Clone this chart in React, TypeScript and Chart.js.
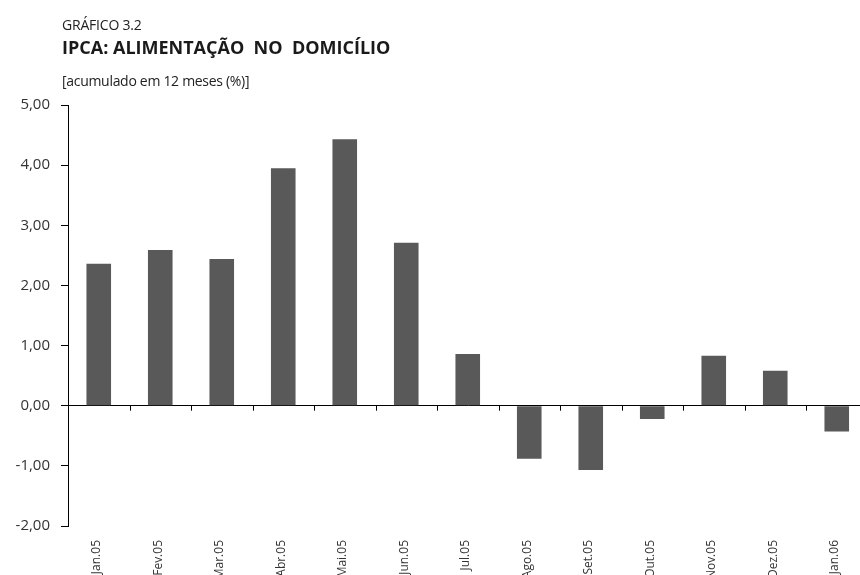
import React, { useEffect, useRef } from "react";
import { Chart, registerables } from "chart.js";

Chart.register(...registerables);

const categories = [
  "Jan.05", "Fev.05", "Mar.05", "Abr.05", "Mai.05", "Jun.05", "Jul.05",
  "Ago.05", "Set.05", "Out.05", "Nov.05", "Dez.05", "Jan.06",
];
const values = [2.36, 2.59, 2.44, 3.95, 4.43, 2.71, 0.86, -0.88, -1.07, -0.22, 0.83, 0.58, -0.43];
const yMin = -2;
const yMax = 5;
const yStep = 1;

const titleSmall = "GRÁFICO 3.2";
const titleMain = "IPCA: ALIMENTAÇÃO  NO  DOMICÍLIO";
const subtitle = "[acumulado em 12 meses (%)]";

const CANVAS_W = 880;
const CANVAS_H = 590;

const xTickMarks = {
  id: "xTickMarks",
  afterDraw(chart: any) {
    const x = chart.scales.x;
    const y = chart.scales.y;
    const ctx = chart.ctx;
    const y0 = y.getPixelForValue(0);
    ctx.save();
    ctx.strokeStyle = "#000";
    ctx.lineWidth = 1;
    ctx.beginPath();
    for (let i = 1; i <= categories.length; i++) {
      const px = Math.round(x.getPixelForValue(i - 0.5)) + 0.5;
      ctx.moveTo(px, y0);
      ctx.lineTo(px, y0 + 5);
    }
    ctx.stroke();
    ctx.restore();
  },
};

export default function App() {
  const ref = useRef<HTMLCanvasElement | null>(null);

  useEffect(() => {
    if (!ref.current) return;
    const chart = new Chart(ref.current, {
      type: "bar",
      data: {
        labels: categories,
        datasets: [
          {
            data: values,
            backgroundColor: "#595959",
            borderWidth: 0,
            barPercentage: 0.8,
            categoryPercentage: 0.5,
          },
        ],
      },
      options: {
        responsive: false,
        animation: false,
        devicePixelRatio: 1,
        layout: { padding: { top: 105, right: 12.5, left: 0, bottom: 0 } },
        plugins: {
          legend: { display: false },
          tooltip: { enabled: false },
          title: { display: false },
        },
        scales: {
          x: {
            offset: true,
            grid: { display: false, drawTicks: false },
            border: { display: false },
            ticks: {
              minRotation: 90,
              maxRotation: 90,
              autoSkip: false,
              padding: 14,
              labelOffset: -2,
              color: "#333",
              font: { family: "'Open Sans', sans-serif", size: 12 },
            },
            afterFit(scale: any) {
              scale.height = CANVAS_H - 526;
            },
          },
          y: {
            min: yMin,
            max: yMax,
            ticks: {
              stepSize: yStep,
              padding: 11,
              color: "#333",
              font: { family: "'Open Sans', sans-serif", size: 15 },
              callback: (v: any) => Number(v).toFixed(2).replace(".", ","),
            },
            grid: {
              drawOnChartArea: true,
              drawTicks: true,
              tickLength: 7,
              tickColor: "#000",
              color: (c: any) => (c.tick && c.tick.value === 0 ? "#000" : "rgba(0,0,0,0)"),
              lineWidth: 1,
            },
            border: { display: true, color: "#000", width: 1 },
            afterFit(scale: any) {
              scale.width = 68;
            },
          },
        },
      },
      plugins: [xTickMarks],
    });
    return () => chart.destroy();
  }, []);

  return (
    <div
      style={{
        position: "fixed",
        left: 0,
        top: 0,
        width: 860,
        height: 575,
        overflow: "hidden",
        background: "#fff",
        fontFamily: "'Open Sans', sans-serif",
      }}
    >
      <canvas
        ref={ref}
        width={CANVAS_W}
        height={CANVAS_H}
        style={{ position: "absolute", left: 0, top: 0, width: CANVAS_W, height: CANVAS_H }}
      />
      <div
        style={{
          position: "absolute",
          left: 62,
          top: 18,
          fontSize: 14,
          lineHeight: "14px",
          letterSpacing: -0.2,
          color: "#222",
          whiteSpace: "pre",
        }}
      >
        {titleSmall}
      </div>
      <div
        style={{
          position: "absolute",
          left: 62,
          top: 38,
          fontSize: 18,
          lineHeight: "18px",
          fontWeight: 700,
          color: "#1a1a1a",
          whiteSpace: "pre",
        }}
      >
        {titleMain}
      </div>
      <div
        style={{
          position: "absolute",
          left: 62,
          top: 73.5,
          fontSize: 14,
          lineHeight: "14px",
          letterSpacing: -0.3,
          color: "#222",
          whiteSpace: "pre",
        }}
      >
        {subtitle}
      </div>
    </div>
  );
}
